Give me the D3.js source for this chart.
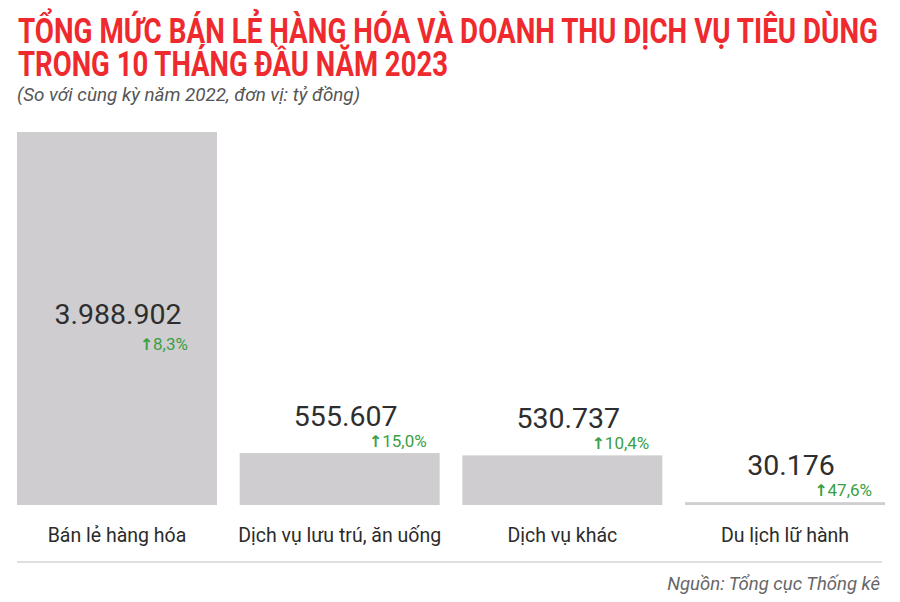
<!DOCTYPE html>
<html>
<head>
<meta charset="utf-8">
<script src="https://cdn.jsdelivr.net/npm/d3@7"></script>
<style>
  body { margin: 0; background: #fff; }
  text { font-family: Roboto, "Noto Sans", sans-serif; }
</style>
</head>
<body>
<div id="chart"></div>
<script>

var categories = [ 'Bán lẻ hàng hóa', 'Dịch vụ lưu trú, ăn uống', 'Dịch vụ khác', 'Du lịch lữ hành' ],
    values     = [ 3988902, 555607, 530737, 30176 ],
    valueText  = [ '3.988.902', '555.607', '530.737', '30.176' ],
    growth     = [ '8,3%', '15,0%', '10,4%', '47,6%' ];

var titleLines = [ 'TỔNG MỨC BÁN LẺ HÀNG HÓA VÀ DOANH THU DỊCH VỤ TIÊU DÙNG',
                   'TRONG 10 THÁNG ĐẦU NĂM 2023' ],
    subtitle   = '(So với cùng kỳ năm 2022, đơn vị: tỷ đồng)',
    source     = 'Nguồn: Tổng cục Thống kê';

var width = 900, height = 602,
    margin = { top: 132, right: 15, bottom: 97, left: 17 };

var data = categories.map( (c, i) => ({ cat: c, value: values[i], label: valueText[i], pct: growth[i] }) );

var svg = d3.select('#chart').append('svg')
    .attr('width', width)
    .attr('height', height);

var x = d3.scaleBand()
    .domain( categories )
    .range([ margin.left, width - margin.right ])
    .paddingInner( 0.102 )
    .paddingOuter( 0 );

var y = d3.scaleLinear()
    .domain([ 0, d3.max(values) ])
    .range([ height - margin.bottom, margin.top ]);

// title
svg.append('g')
    .attr('class', 'title')
    .selectAll('text')
    .data( titleLines ).enter()
  .append('text')
    .attr('x', 18)
    .attr('y', (d, i) => 43 + i * 33)
    .attr('font-size', 35)
    .attr('font-weight', 'bold')
    .attr('fill', '#ee2a2e')
    .attr('textLength', (d, i) => i ? 430 : 860)
    .attr('lengthAdjust', 'spacingAndGlyphs')
    .text( String );

svg.append('text')
    .attr('x', 17)
    .attr('y', 101)
    .attr('font-size', 19)
    .attr('font-style', 'italic')
    .attr('fill', '#555')
    .attr('textLength', 343)
    .attr('lengthAdjust', 'spacingAndGlyphs')
    .text( subtitle );

// bars
svg.append('g')
    .attr('class', 'bars')
    .selectAll('rect')
    .data( data ).enter()
  .append('rect')
    .attr('x', d => x(d.cat))
    .attr('y', d => y(d.value))
    .attr('width', x.bandwidth())
    .attr('height', d => y(0) - y(d.value))
    .attr('fill', '#cfcdd0');

var inside = d => y(0) - y(d.value) > 100;

var labels = svg.append('g')
    .attr('class', 'labels')
    .selectAll('g')
    .data( data ).enter()
  .append('g');

labels.append('text')
    .attr('x', d => x(d.cat) + x.bandwidth() / 2 + (inside(d) ? 1 : 6))
    .attr('y', d => inside(d) ? (y(d.value) + y(0)) / 2 + 5 : y(d.value) - 27)
    .attr('text-anchor', 'middle')
    .attr('font-size', 28.5)
    .attr('fill', '#2e2e2e')
    .text( d => d.label );

var pct = labels.append('text')
    .attr('x', d => x(d.cat) + x.bandwidth() - (inside(d) ? 29 : 13))
    .attr('y', d => inside(d) ? (y(d.value) + y(0)) / 2 + 31 : y(d.value) - 6)
    .attr('text-anchor', 'end')
    .attr('font-size', 17)
    .attr('fill', '#3aa044');

pct.append('tspan')
    .attr('font-family', 'DejaVu Sans')
    .attr('font-weight', 'bold')
    .attr('font-size', 16)
    .attr('dx', 0)
    .text('↑');
pct.append('tspan').text( d => d.pct );

// category labels
svg.append('g')
    .attr('class', 'cats')
    .selectAll('text')
    .data( categories ).enter()
  .append('text')
    .attr('x', d => x(d) + x.bandwidth() / 2)
    .attr('y', 542)
    .attr('text-anchor', 'middle')
    .attr('font-size', 19.5)
    .attr('fill', '#2b2b2b')
    .text( String );

// separator + source
svg.append('line')
    .attr('x1', 17).attr('x2', 882)
    .attr('y1', 562).attr('y2', 562)
    .attr('stroke', '#d4d4d4')
    .attr('stroke-width', 1.5);

svg.append('text')
    .attr('x', 880)
    .attr('y', 590)
    .attr('text-anchor', 'end')
    .attr('font-size', 18.5)
    .attr('font-style', 'italic')
    .attr('fill', '#666')
    .text( source );

</script>
</body>
</html>
